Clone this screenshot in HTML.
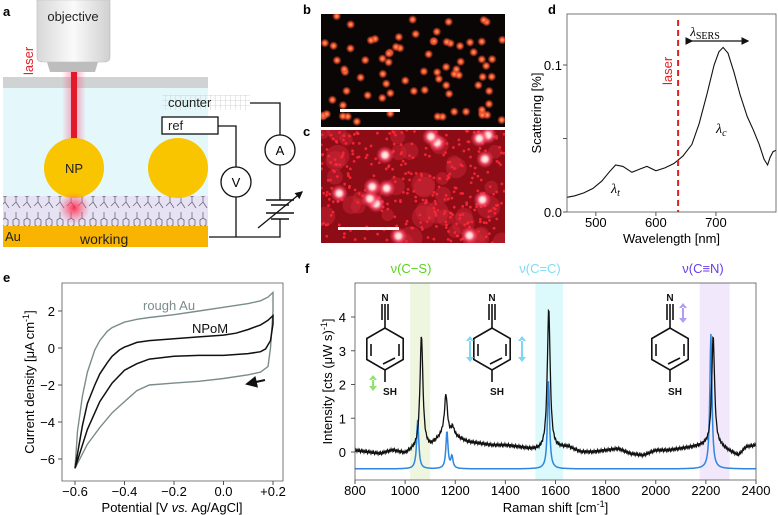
<!DOCTYPE html>
<html><head><meta charset="utf-8"><style>
html,body{margin:0;padding:0;background:#fff;}
svg{display:block;font-family:"Liberation Sans","DejaVu Sans",sans-serif;}
</style></head><body>
<svg id="fig" width="778" height="515" viewBox="0 0 778 515" xmlns="http://www.w3.org/2000/svg">
<defs>
<clipPath id="clipB"><rect x="321" y="14" width="184" height="113"/></clipPath>
<clipPath id="clipC"><rect x="321" y="130" width="184" height="113"/></clipPath>
<radialGradient id="beamglow" cx="0.5" cy="0.5" r="0.5"><stop offset="0" stop-color="#ff2040" stop-opacity="0.9"/><stop offset="1" stop-color="#ff6080" stop-opacity="0"/></radialGradient>
<radialGradient id="dotglow" cx="0.5" cy="0.5" r="0.5"><stop offset="0" stop-color="#ffb060"/><stop offset="0.45" stop-color="#f05030"/><stop offset="1" stop-color="#f05030" stop-opacity="0"/></radialGradient>
<radialGradient id="halo" cx="0.5" cy="0.5" r="0.5"><stop offset="0" stop-color="#fffbd0"/><stop offset="0.3" stop-color="#ffd0d8"/><stop offset="0.6" stop-color="#ff5070" stop-opacity="0.7"/><stop offset="1" stop-color="#ff3050" stop-opacity="0"/></radialGradient>
<linearGradient id="objg" x1="0" x2="1"><stop offset="0" stop-color="#d8d8d8"/><stop offset="0.5" stop-color="#fafafa"/><stop offset="1" stop-color="#d0d0d0"/></linearGradient>
<linearGradient id="glowx" x1="0" x2="1"><stop offset="0" stop-color="#ff4070" stop-opacity="0"/><stop offset="0.5" stop-color="#ff4070" stop-opacity="0.5"/><stop offset="1" stop-color="#ff4070" stop-opacity="0"/></linearGradient>
<pattern id="mesh" width="5" height="5" patternUnits="userSpaceOnUse"><path d="M0 0H5M0 0V5" stroke="#c8c8c8" stroke-width="0.8" fill="none"/></pattern>
<pattern id="mol" width="11" height="30" patternUnits="userSpaceOnUse"><path d="M5 2V8M2 10L5 8L8 10V15L5 17L2 15ZM5 17V22M5 22L1 26M5 22L9 28" stroke="#6a6a7a" stroke-width="0.8" fill="none"/></pattern>
<marker id="ah" markerWidth="6" markerHeight="6" refX="5" refY="3" orient="auto"><path d="M0 0L6 3L0 6Z" fill="#111"/></marker>
</defs>

<g>
<text x="3" y="16" font-size="13" font-weight="bold">a</text>
<rect x="3" y="88" width="205" height="108" fill="#e4f8fb"/>
<rect x="3" y="77" width="205" height="11" fill="#cfd3d3"/>
<rect x="3" y="196" width="205" height="31" fill="#e6e2f4"/>
<rect x="3" y="196" width="205" height="31" fill="url(#mol)"/>
<rect x="3" y="226" width="205" height="21" fill="#f8b400"/>
<text x="5" y="241" font-size="13" fill="#222">Au</text>
<text x="80" y="244" font-size="14" fill="#222">working</text>
<path d="M37 0H110V57Q110 62 104 62H43Q37 62 37 57Z" fill="url(#objg)" stroke="#bbb" stroke-width="0.6"/>
<path d="M47 62H98L95 72H50Z" fill="#bdbdbd"/>
<text x="73" y="21" font-size="13" text-anchor="middle" fill="#222">objective</text>
<rect x="62" y="72" width="24" height="70" fill="url(#glowx)"/>
<rect x="71" y="72" width="6" height="68" fill="#e01a2a"/>
<text transform="translate(33,75) rotate(-90)" font-size="13" fill="#e0202a">laser</text>
<circle cx="74" cy="168" r="30" fill="#f9c400"/>
<text x="74" y="173" font-size="13" text-anchor="middle" fill="#222">NP</text>
<circle cx="178" cy="168" r="30" fill="#f9c400"/>
<circle cx="74" cy="208" r="16" fill="url(#beamglow)"/>
<rect x="162" y="95" width="88" height="15" fill="url(#mesh)"/>
<text x="168" y="107" font-size="13" fill="#222">counter</text>
<rect x="162" y="117" width="56" height="17" fill="#fff" stroke="#111" stroke-width="1.3"/>
<text x="168" y="130" font-size="13" fill="#222">ref</text>
<g fill="none" stroke="#111" stroke-width="1.3">
<path d="M250 103H280V135M280 165V200M280 219V237H209M218 126H236V167M236 197V237"/>
<path d="M266 200H294M271 205H289M266 213H294M271 219H289" stroke-width="1.6"/>
<path d="M258 228L302 192" marker-end="url(#ah)"/>
</g>
<circle cx="236" cy="182" r="15" fill="#fff" stroke="#111" stroke-width="1.3"/>
<text x="236" y="187" font-size="13" text-anchor="middle">V</text>
<circle cx="280" cy="150" r="15" fill="#fff" stroke="#111" stroke-width="1.3"/>
<text x="280" y="155" font-size="13" text-anchor="middle">A</text>
</g>

<text x="303" y="14" font-size="13" font-weight="bold">b</text>
<text x="303" y="136" font-size="13" font-weight="bold">c</text>
<rect x="321" y="14" width="184" height="113" fill="#0b0606"/>
<rect x="321" y="130" width="184" height="113" fill="#8e0c16"/>
<g id="dotsB" clip-path="url(#clipB)"></g>
<g id="dotsC" clip-path="url(#clipC)"></g>
<rect x="340" y="109" width="60" height="3" fill="#fff"/>
<rect x="338" y="227" width="61" height="3" fill="#fff"/>

<g id="panelD">
<text x="548" y="14" font-size="13" font-weight="bold">d</text>
</g>
<g id="panelE">
<text x="3" y="282" font-size="13" font-weight="bold">e</text>
</g>
<g id="panelF">
<text x="305" y="273" font-size="13" font-weight="bold">f</text>
</g>
</svg>
<script>
const NS="http://www.w3.org/2000/svg";
// ---- Panel d data ----
const dWavelength=[452,465,480,495,510,522,533,545,560,572,585,600,615,630,645,660,672,685,697,705,712,720,730,740,752,762,772,780,786,790,795,800];
const dScatter=[0.010,0.011,0.013,0.016,0.021,0.027,0.032,0.031,0.027,0.029,0.031,0.028,0.030,0.033,0.038,0.046,0.060,0.080,0.100,0.109,0.112,0.108,0.095,0.080,0.065,0.056,0.046,0.036,0.032,0.037,0.041,0.042];
const dXTicks=[500,600,700];
const dYTicks=[0,0.05,0.1];
const dYTickLabels=["0.0","","0.1"];
const dLaser=637;
// ---- Panel e data ----
const eNpomV=[-0.6,-0.57,-0.55,-0.52,-0.5,-0.47,-0.45,-0.42,-0.4,-0.35,-0.3,-0.2,-0.1,0,0.05,0.1,0.15,0.18,0.2,0.2,0.19,0.17,0.15,0.1,0.05,0,-0.1,-0.2,-0.3,-0.35,-0.4,-0.45,-0.5,-0.55,-0.6];
const eNpomJ=[-6.5,-4.2,-3.0,-2.0,-1.4,-0.8,-0.45,-0.1,0.05,0.3,0.4,0.5,0.6,0.7,0.8,1.0,1.25,1.5,1.75,1.3,0.4,-0.05,-0.2,-0.3,-0.35,-0.4,-0.4,-0.45,-0.6,-0.85,-1.2,-1.9,-2.9,-4.4,-6.5];
const eRoughV=[-0.6,-0.59,-0.57,-0.55,-0.52,-0.5,-0.47,-0.45,-0.4,-0.35,-0.3,-0.2,-0.1,0,0.1,0.15,0.18,0.2,0.2,0.19,0.18,0.15,0.1,0,-0.1,-0.2,-0.3,-0.35,-0.4,-0.45,-0.5,-0.55,-0.6];
const eRoughJ=[-6.5,-4.5,-2.6,-1.3,-0.1,0.4,0.9,1.1,1.4,1.55,1.65,1.8,2.0,2.2,2.4,2.55,2.75,3.0,2.0,0.0,-1.0,-1.3,-1.45,-1.65,-1.8,-1.9,-2.0,-2.3,-2.9,-3.5,-4.3,-5.2,-6.5];
const eXTicks=[-0.6,-0.4,-0.2,0.0,0.2];
const eXTickLabels=["\u22120.6","\u22120.4","\u22120.2","0.0","+0.2"];
const eYTicks=[-6,-4,-2,0,2];
const eYTickLabels=["\u22126","\u22124","\u22122","0","2"];
// ---- Panel f data ----
const fBaseX=[800,850,900,950,1000,1030,1100,1150,1200,1250,1300,1350,1400,1450,1500,1540,1650,1700,1750,1800,1850,1900,1950,2000,2050,2100,2150,2200,2260,2300,2330,2360,2400];
const fBaseY=[0.05,0.0,-0.05,0.05,-0.05,0.05,0.15,0.5,0.45,0.3,0.25,0.2,0.2,0.15,0.08,0.05,0.15,0.0,0.0,0.05,0.1,-0.05,-0.1,0.05,0.05,0.1,0.15,0.2,0.15,0.0,-0.1,0.15,0.2];
const fBlackPeakPos=[1065,1163,1190,1573,2229];
const fBlackPeakAmp=[3.35,1.2,0.25,4.15,3.25];
const fBluePeakPos=[1050,1167,1187,1572,2220];
const fBluePeakAmp=[1.45,1.1,0.35,2.6,4.0];
const fBlueBase=-0.5;
const fBands=[[1020,1100],[1520,1630],[2175,2295]];
const fBandColors=["#eef6e0","#dcf9fb","#f1e8fb"];
const fXTicks=[800,1000,1200,1400,1600,1800,2000,2200,2400];
const fYTicks=[0,1,2,3,4];

function mk(tag,attrs,parent,text){const e=document.createElementNS(NS,tag);for(const k in attrs)e.setAttribute(k,attrs[k]);if(text!==undefined)e.textContent=text;parent.appendChild(e);return e;}
function lin(d0,d1,r0,r1){return v=>r0+(v-d0)/(d1-d0)*(r1-r0);}

(function(){
const g=document.getElementById('panelD');
const L=567,R=776,T=14,B=212;
const x=lin(452,800,L,R), y=lin(0,0.1,B,65);
let pd=dWavelength.map((w,i)=>(i?'L':'M')+x(w).toFixed(1)+' '+y(dScatter[i]).toFixed(1)).join('');
const ln=mk('path',{d:pd,fill:'none',stroke:'#111','stroke-width':1.1},g);


const lz=mk('line',{x1:x(dLaser),x2:x(dLaser),y1:T+6,y2:B,stroke:'#e02020','stroke-width':2,'stroke-dasharray':'6,4'},g);


const lt=mk('text',{transform:`translate(${x(dLaser)-6},85) rotate(-90)`,'font-size':13,fill:'#e02020'},g,'laser');


const fr=mk('rect',{x:L,y:T,width:R-L,height:B-T,fill:'none',stroke:'#555','stroke-width':0.8},g);


dXTicks.forEach(t=>{const tl=mk('line',{x1:x(t),x2:x(t),y1:B,y2:B+4,stroke:'#555'},g);


const tx=mk('text',{x:x(t),y:B+15,'font-size':13,'text-anchor':'middle'},g,String(t));

});
dYTicks.forEach((t,i)=>{const tl=mk('line',{x1:L-4,x2:L,y1:y(t),y2:y(t),stroke:'#555'},g);


const tx=mk('text',{x:L-5,y:y(t)+5,'font-size':13,'text-anchor':'end'},g,dYTickLabels[i]);

});
const xl=mk('text',{x:(L+R)/2,y:243,'font-size':13,'text-anchor':'middle'},g,'Wavelength [nm]');


const yl=mk('text',{transform:`translate(541,${(T+B)/2}) rotate(-90)`,'font-size':13,'text-anchor':'middle'},g,'Scattering [%]');


const ar=mk('path',{d:'M692 41H748',stroke:'#111','stroke-width':1.3,'marker-end':'url(#ah)','marker-start':'url(#ah)'},g);


const sa=mk('text',{x:705,y:36,'font-size':13,'font-family':'Liberation Serif,serif','text-anchor':'middle'},g);


sa.innerHTML='<tspan font-style="italic">λ</tspan><tspan font-size="10" dy="3">SERS</tspan>';
const lc=mk('text',{x:716,y:133,'font-size':14,'font-family':'Liberation Serif,serif','font-style':'italic'},g);
lc.innerHTML='λ<tspan font-size="10" dy="3">c</tspan>';


const lt2=mk('text',{x:611,y:193,'font-size':14,'font-family':'Liberation Serif,serif','font-style':'italic'},g);
lt2.innerHTML='λ<tspan font-size="10" dy="3">t</tspan>';


})();

(function(){
const g=document.getElementById('panelE');
const L=62,R=283,T=283,B=481;
const x=lin(-0.6,0.2,75,273), y=lin(0,2,348,311);
function path(vs,js){return vs.map((v,i)=>(i?'L':'M')+x(v).toFixed(1)+' '+y(js[i]).toFixed(1)).join('');}
const r=mk('path',{d:path(eRoughV,eRoughJ),fill:'none',stroke:'#7b8c8c','stroke-width':1.4},g);


const n=mk('path',{d:path(eNpomV,eNpomJ),fill:'none',stroke:'#111','stroke-width':1.5},g);


const fr=mk('path',{d:`M${L} ${T}H${R}V${B}H${L}Z`,fill:'none',stroke:'#555','stroke-width':0.8},g);


eXTicks.forEach((t,i)=>{const tl=mk('line',{x1:x(t),x2:x(t),y1:B,y2:B+4,stroke:'#555'},g);


const tx=mk('text',{x:x(t),y:B+15,'font-size':13,'text-anchor':'middle'},g,eXTickLabels[i]);

});
eYTicks.forEach((t,i)=>{const tl=mk('line',{x1:L-4,x2:L,y1:y(t),y2:y(t),stroke:'#555'},g);


const tx=mk('text',{x:L-7,y:y(t)+5,'font-size':13,'text-anchor':'end'},g,eYTickLabels[i]);

});
const xl=mk('text',{x:172,y:512,'font-size':13,'text-anchor':'middle'},g);
xl.innerHTML='Potential [V <tspan font-style="italic">vs.</tspan> Ag/AgCl]';


const yl=mk('text',{transform:`translate(34,${(T+B)/2}) rotate(-90)`,'font-size':13,'text-anchor':'middle'},g);
yl.innerHTML='Current density [μA cm<tspan font-size="9" dy="-5">-1</tspan><tspan dy="5">]</tspan>';


const a=mk('text',{x:143,y:310,'font-size':13,fill:'#7b8c8c'},g,'rough Au');


const b=mk('text',{x:192,y:333,'font-size':13,fill:'#111'},g,'NPoM');


const ar=mk('path',{d:'M265 380L247 384',stroke:'#111','stroke-width':2,'marker-end':'url(#ah)'},g);


})();

(function(){
const g=document.getElementById('panelF');
const L=355,R=756,T=283,B=480;
const x=lin(800,2400,L,R), y=lin(0,4,452,317);
fBands.forEach((b,i)=>{const r=mk('rect',{x:x(b[0]),y:T,width:x(b[1])-x(b[0]),height:B-T,fill:fBandColors[i]},g);

});
function base(w){for(let i=0;i<fBaseX.length-1;i++){if(w<=fBaseX[i+1]){const t=(w-fBaseX[i])/(fBaseX[i+1]-fBaseX[i]);return fBaseY[i]+t*(fBaseY[i+1]-fBaseY[i]);}}return fBaseY[fBaseY.length-1];}
function lor(w,p,a,hw){return a/(1+((w-p)/hw)**2);}
let pb='',pk='';
for(let w=800;w<=2400;w+=2){
 let vb=fBlueBase;fBluePeakPos.forEach((p,i)=>vb+=lor(w,p,fBluePeakAmp[i],5));
 let vk=base(w);fBlackPeakPos.forEach((p,i)=>vk+=lor(w,p,fBlackPeakAmp[i],7));
 vk+=0.04*Math.sin(w*0.9);
 pb+=(w===800?'M':'L')+x(w).toFixed(1)+' '+y(vb).toFixed(1);
 pk+=(w===800?'M':'L')+x(w).toFixed(1)+' '+y(vk).toFixed(1);
}
const bl=mk('path',{d:pb,fill:'none',stroke:'#2f86e0','stroke-width':1.5},g);


const kl=mk('path',{d:pk,fill:'none',stroke:'#111','stroke-width':1.3},g);


const fr=mk('rect',{x:L,y:T,width:R-L,height:B-T,fill:'none',stroke:'#555','stroke-width':0.8},g);


fXTicks.forEach(t=>{const tl=mk('line',{x1:x(t),x2:x(t),y1:B,y2:B+4,stroke:'#555'},g);


const tx=mk('text',{x:x(t),y:B+15,'font-size':13,'text-anchor':'middle'},g,String(t));

});
fYTicks.forEach(t=>{const tl=mk('line',{x1:L-4,x2:L,y1:y(t),y2:y(t),stroke:'#555'},g);


const tx=mk('text',{x:L-9,y:y(t)+5,'font-size':13,'text-anchor':'end'},g,String(t));

});
const xl=mk('text',{x:(L+R)/2,y:512,'font-size':13,'text-anchor':'middle'},g);
xl.innerHTML='Raman shift [cm<tspan font-size="9" dy="-5">-1</tspan><tspan dy="5">]</tspan>';


const yl=mk('text',{transform:`translate(332,${(T+B)/2}) rotate(-90)`,'font-size':13,'text-anchor':'middle'},g);
yl.innerHTML='Intensity [cts (μW s)<tspan font-size="9" dy="-5">-1</tspan><tspan dy="5">]</tspan>';


[['ν(C−S)',411,'#5ad21e'],['ν(C=C)',540,'#7fdcf4'],['ν(C≡N)',703,'#6a3ee8']].forEach(m=>{
 const t=mk('text',{x:m[1],y:273,'font-size':13,'text-anchor':'middle',fill:m[2]},g,m[0]);
 
 });
[385,492,670].forEach(cx=>{
 const cy=349,r=21;const mg=mk('g',{stroke:'#111','stroke-width':1.6,fill:'none'},g);
 
 
 let pts=[];for(let k=0;k<6;k++){const a=Math.PI/2+k*Math.PI/3;pts.push([cx+r*Math.cos(a),cy-r*Math.sin(a)]);}
 mk('polygon',{points:pts.map(p=>p.join(',')).join(' ')},mg);
 mk('line',{x1:cx+14,y1:cy-5,x2:cx+14,y2:cy+7},mg);mk('line',{x1:cx-14,y1:cy-5,x2:cx-14,y2:cy+7},mg);
 mk('line',{x1:cx-2,y1:cy+15,x2:cx+10,y2:cy+9},mg);
 mk('line',{x1:cx,y1:cy-r,x2:cx,y2:cy-r-8},mg);
 [-3,0,3].forEach(d=>mk('line',{x1:cx+d,y1:cy-r-8,x2:cx+d,y2:cy-r-24},mg));
 mk('line',{x1:cx,y1:cy+r,x2:cx,y2:cy+r+12},mg);
 mk('text',{x:cx,y:cy-r-27,'font-size':10,'font-weight':'bold','text-anchor':'middle',fill:'#111',stroke:'none'},mg,'N');
 mk('text',{x:cx+5,y:cy+r+25,'font-size':10,'font-weight':'bold','text-anchor':'middle',fill:'#111',stroke:'none'},mg,'SH');
});
[[373,383,8,'#8fe46a'],[470,349,13,'#7fd6f4'],[522,349,13,'#7fd6f4'],[683,313,10,'#b49cf0']].forEach(a=>{
 const p=mk('path',{d:`M${a[0]} ${a[1]-a[2]}l-4 5h8zM${a[0]} ${a[1]+a[2]}l-4 -5h8zM${a[0]-1} ${a[1]-a[2]+4}h2v${2*a[2]-8}h-2z`,fill:a[3]},g);
 
 });
})();

(function(){
let s=7;function rnd(){s=(s*16807)%2147483647;return s/2147483647;}
const gb=document.getElementById('dotsB');
for(let i=0;i<80;i++){const cx=323+rnd()*180,cy=16+rnd()*109;
 const c=mk('circle',{cx:cx,cy:cy,r:4.5,fill:'url(#dotglow)'},gb);
 
 }
const gc=document.getElementById('dotsC');
for(let i=0;i<40;i++){const cx=321+rnd()*184,cy=130+rnd()*113;
 const c=mk('circle',{cx:cx,cy:cy,r:6+rnd()*6,fill:'#d02838',opacity:0.45},gc);
 
 }
for(let i=0;i<320;i++){const cx=321+rnd()*184,cy=130+rnd()*113;
 const c=mk('circle',{cx:cx,cy:cy,r:1.4,fill:'#ff2838',opacity:0.85},gc);
 
 }
for(let i=0;i<14;i++){const cx=325+rnd()*176,cy=133+rnd()*107;
 const h=mk('circle',{cx:cx,cy:cy,r:9,fill:'url(#halo)'},gc);
 
 }
})();
</script>
</body></html>
